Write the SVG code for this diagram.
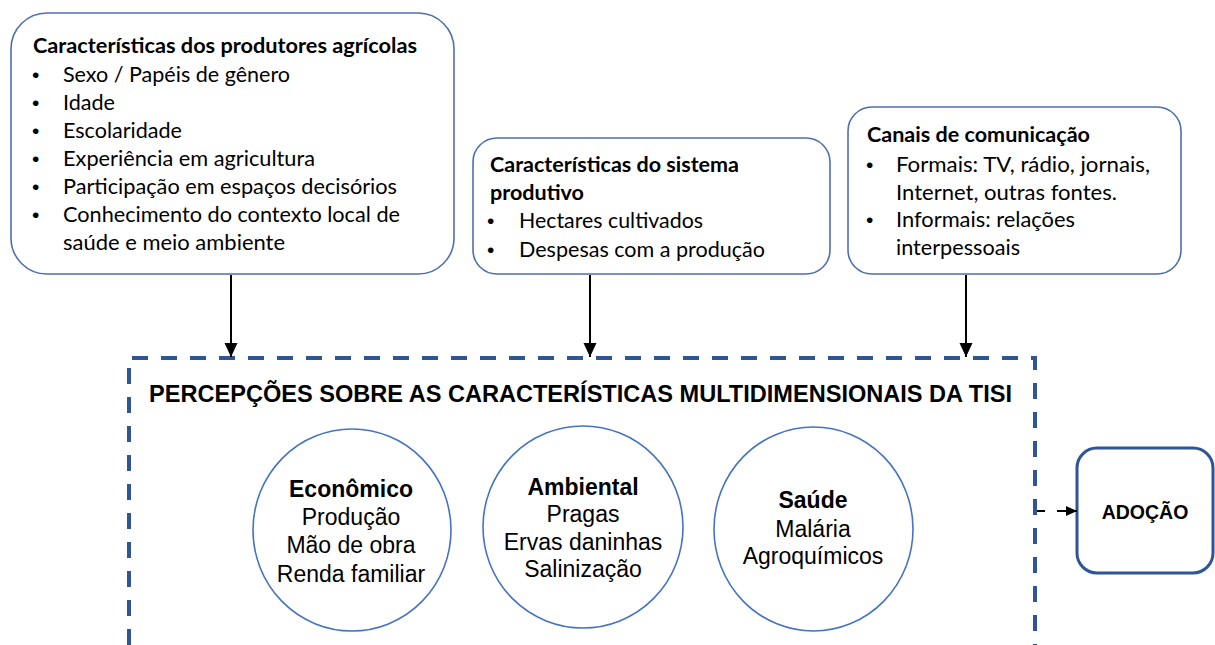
<svg xmlns="http://www.w3.org/2000/svg" width="1215" height="645" viewBox="0 0 1215 645">
<defs>
<style>
.box{fill:#ffffff;stroke:#4E6FAE;stroke-width:1.6}
.circ{fill:#ffffff;stroke:#4472C4;stroke-width:1.6}
.t{font-family:Lato,"Liberation Sans",sans-serif;font-size:21px;fill:#000}
.tb{font-family:Lato,"Liberation Sans",sans-serif;font-size:21px;font-weight:bold;fill:#000}
.bul{font-family:"Liberation Sans",sans-serif;font-size:21px;fill:#000}
.c{font-family:"Liberation Sans",Arial,sans-serif;font-size:23px;fill:#000;text-anchor:middle}
.cb{font-family:"Liberation Sans",Arial,sans-serif;font-size:23px;font-weight:bold;fill:#000;text-anchor:middle}
.hd{font-family:"Liberation Sans",Arial,sans-serif;font-size:23.5px;font-weight:bold;fill:#000}
.conn{stroke:#000;stroke-width:2;fill:none}
</style>
<marker id="arr" viewBox="0 0 14 14" markerWidth="14" markerHeight="14" refX="14" refY="7" orient="auto" markerUnits="userSpaceOnUse">
<path d="M0,0.5 L14,7 L0,13.5 z" fill="#000"/>
</marker>
<marker id="arr2" viewBox="0 0 11 11" markerWidth="11" markerHeight="11" refX="11" refY="5.5" orient="auto" markerUnits="userSpaceOnUse">
<path d="M0,0.5 L11,5.5 L0,10.5 z" fill="#000"/>
</marker>
</defs>
<rect width="1215" height="645" fill="#ffffff"/>

<g id="produtores">
<rect class="box" x="11" y="13" width="443" height="261" rx="36" ry="36"/>
<text class="tb" x="33" y="53" textLength="384" lengthAdjust="spacingAndGlyphs">Características dos produtores agrícolas</text>
<text class="bul" x="32" y="82">•</text>
<text class="t" x="63" y="82" textLength="227" lengthAdjust="spacingAndGlyphs">Sexo / Papéis de gênero</text>
<text class="bul" x="32" y="110">•</text>
<text class="t" x="63" y="110" textLength="52" lengthAdjust="spacingAndGlyphs">Idade</text>
<text class="bul" x="32" y="138">•</text>
<text class="t" x="63" y="138" textLength="119" lengthAdjust="spacingAndGlyphs">Escolaridade</text>
<text class="bul" x="32" y="166">•</text>
<text class="t" x="63" y="166" textLength="252" lengthAdjust="spacingAndGlyphs">Experiência em agricultura</text>
<text class="bul" x="32" y="194">•</text>
<text class="t" x="63" y="194" textLength="334" lengthAdjust="spacingAndGlyphs">Participação em espaços decisórios</text>
<text class="bul" x="32" y="222">•</text>
<text class="t" x="63" y="222" textLength="337" lengthAdjust="spacingAndGlyphs">Conhecimento do contexto local de</text>
<text class="t" x="63" y="250" textLength="222" lengthAdjust="spacingAndGlyphs">saúde e meio ambiente</text>
</g>

<g id="sistema">
<rect class="box" x="473" y="138" width="357" height="136" rx="24" ry="24"/>
<text class="tb" x="490" y="172" textLength="249" lengthAdjust="spacingAndGlyphs">Características do sistema</text>
<text class="tb" x="490" y="200" textLength="94" lengthAdjust="spacingAndGlyphs">produtivo</text>
<text class="bul" x="487" y="228">•</text>
<text class="t" x="519" y="228" textLength="184" lengthAdjust="spacingAndGlyphs">Hectares cultivados</text>
<text class="bul" x="487" y="257">•</text>
<text class="t" x="519" y="257" textLength="246" lengthAdjust="spacingAndGlyphs">Despesas com a produção</text>
</g>

<g id="canais">
<rect class="box" x="848" y="107" width="333" height="167" rx="24" ry="24"/>
<text class="tb" x="867" y="142" textLength="223" lengthAdjust="spacingAndGlyphs">Canais de comunicação</text>
<text class="bul" x="866" y="172">•</text>
<text class="t" x="896" y="172" textLength="254" lengthAdjust="spacingAndGlyphs">Formais: TV, rádio, jornais,</text>
<text class="t" x="896" y="200" textLength="221" lengthAdjust="spacingAndGlyphs">Internet, outras fontes.</text>
<text class="bul" x="866" y="227">•</text>
<text class="t" x="896" y="227" textLength="179" lengthAdjust="spacingAndGlyphs">Informais: relações</text>
<text class="t" x="896" y="255" textLength="124" lengthAdjust="spacingAndGlyphs">interpessoais</text>
</g>

<g id="percepcoes">
<path d="M129,645 V358 H1035 V645" fill="none" stroke="#2F5597" stroke-width="4" stroke-dasharray="16 13"/>
<text class="hd" x="149" y="402" textLength="863" lengthAdjust="spacingAndGlyphs">PERCEPÇÕES SOBRE AS CARACTERÍSTICAS MULTIDIMENSIONAIS DA TISI</text>
</g>

<g id="economico">
<ellipse class="circ" cx="352" cy="530" rx="99" ry="101"/>
<text class="cb" x="351" y="497">Econômico</text>
<text class="c" x="351" y="525">Produção</text>
<text class="c" x="351" y="553">Mão de obra</text>
<text class="c" x="351" y="582">Renda familiar</text>
</g>

<g id="ambiental">
<ellipse class="circ" cx="583" cy="527" rx="100" ry="101"/>
<text class="cb" x="583" y="495">Ambiental</text>
<text class="c" x="583" y="522">Pragas</text>
<text class="c" x="583" y="550">Ervas daninhas</text>
<text class="c" x="583" y="577">Salinização</text>
</g>

<g id="saude">
<ellipse class="circ" cx="813.5" cy="529" rx="99.5" ry="102"/>
<text class="cb" x="813" y="508">Saúde</text>
<text class="c" x="813" y="537">Malária</text>
<text class="c" x="813" y="564">Agroquímicos</text>
</g>

<g id="adocao">
<rect x="1077" y="448" width="136" height="125" rx="20" ry="20" fill="#ffffff" stroke="#2F5597" stroke-width="3"/>
<text x="1145" y="519" font-family="'Liberation Sans',Arial,sans-serif" font-size="19.5" font-weight="bold" text-anchor="middle">ADOÇÃO</text>
</g>

<g id="connectors">
<line class="conn" x1="231" y1="275" x2="231" y2="357" marker-end="url(#arr)"/>
<line class="conn" x1="590" y1="275" x2="590" y2="357" marker-end="url(#arr)"/>
<line class="conn" x1="966" y1="275" x2="966" y2="357" marker-end="url(#arr)"/>
<line class="conn" x1="1037" y1="511" x2="1077" y2="511" stroke-dasharray="8 12 20" marker-end="url(#arr2)"/>
</g>
</svg>
